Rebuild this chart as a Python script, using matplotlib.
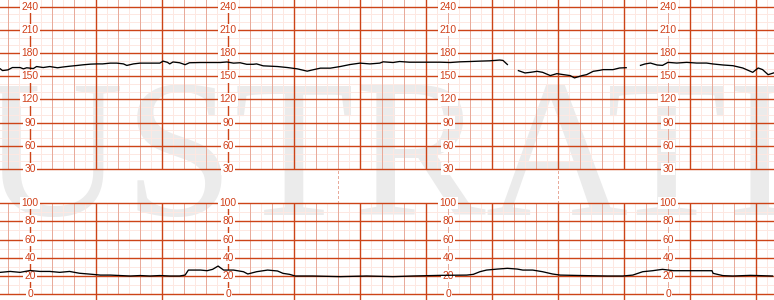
import numpy as np
import matplotlib
matplotlib.use('Agg')
import matplotlib.pyplot as plt

# fetal heart rate (bpm), time in seconds; nan = signal loss
fhr_t = [-27, -25, -20, -16, -9, -6, -3, 3, 6, 12, 18, 25, 30, 36, 43, 48, 55, 61, 66, 73,
         79, 85, 88, 94, 100, 106, 112, 118, 121, 125, 127, 130, 136, 141, 145, 155, 164, 173,
         179, 185, 191, 197, 203, 206, 212, 225, 234, 243, 252, 257, 264, 273, 282, 291, 300,
         309, 318, 321, 330, 336, 345, 355, 364, 373, 382, 391, 400, 409, 418, 427, 430, 434,
         440,
         444, 450, 455, 461, 466, 473, 479, 485, 491, 495, 502, 506, 512, 518, 521, 530, 536, 542,
         548,
         555, 559, 564, 570, 575, 580, 588, 597, 606, 615, 621, 630, 639, 648, 657, 662, 666,
         671, 676]
fhr_bpm = [159.6, 157.4, 158.3, 161.3, 161.3, 159.6, 161, 160, 162.6, 161.3, 162.6, 161, 162,
           163, 164, 164.8, 165.7, 166, 166, 167, 167, 166, 164, 166, 167, 167, 167, 167, 169.6,
           168, 166, 168.5, 167.5, 165, 167.5, 167.8, 167.8, 167.8, 168.5, 167, 167.5, 165.5,
           165.5, 166, 163.5, 162.6, 161.3, 159.6, 156.6, 158.3, 160.5, 160.5, 162.6, 165.2, 167,
           166, 167, 168.7, 167.8, 169.1, 168.2, 168.2, 168.2, 168.2, 167.8, 168.7, 169.1, 169.6,
           170, 171, 170.5, 165.2,
           np.nan,
           157.3, 154.3, 155.1, 156.4, 155.1, 150.9, 153.4, 152.1, 150.9, 147.9, 150.9, 152.1,
           156.4, 157.7, 158.6, 158.6, 160.7, 161.1,
           np.nan,
           164.1, 165.9, 167.1, 164.6, 164.1, 168, 167.1, 168, 167.1, 167.1, 165.9, 164.6, 163.7,
           160.7, 155.1, 160.7, 158.6, 152.1, 154.3]

# uterine activity
ua_t = [-27, -18, -9, 0, 9, 18, 27, 36, 45, 55, 64, 73, 82, 91, 100, 109, 118, 127, 136, 141,
        144, 155, 161, 166, 171, 176, 185, 194, 198, 206, 216, 225, 230, 236, 241, 257, 282, 306,
        330, 348, 373, 397, 403, 409, 415, 425, 434, 443, 448, 457, 466, 475, 482, 494, 506, 525,
        539, 548, 557, 566, 575, 585, 597, 609, 620, 621, 630, 639, 655, 664, 675]
ua_val = [24, 25, 24, 26, 25, 25, 24, 25, 23, 22, 21, 21, 20.5, 20, 20.5, 20, 20.5, 20, 20, 21,
          26.5, 26.5, 25.8, 27.3, 30.9, 26.5, 26.5, 24.7, 22.2, 24.7, 26.5, 25.5, 22.9, 21.8, 20,
          20, 19.3, 20, 19.3, 20, 20.7, 21, 21.8, 24.7, 26.5, 27.6, 28.4, 27.6, 26.5, 26.5, 24.7,
          22.2, 21, 20.7, 20.4, 20, 20, 21, 24.7, 25.8, 27.3, 25.8, 25.8, 25.8, 25.8, 22.9, 20.4,
          20, 20.7, 20.4, 20]

fhr_ticks = [30, 60, 90, 120, 150, 180, 210, 240]
ua_ticks = [0, 20, 40, 60, 80, 100]
label_t = [0, 180, 380, 580]
marker_t = [280, 480]

DARK = '#cc4418'
MED = '#e8ab9b'
LIGHT = '#fde8e2'
TXT = '#d0401a'

plt.rcParams['font.family'] = ['Liberation Sans', 'DejaVu Sans']

fig = plt.figure(figsize=(7.74, 3.0), dpi=100)
fig.patch.set_facecolor('white')

xlim = (-30 / 1.1, 744 / 1.1)
ax_top = fig.add_axes([0, 131 / 300, 1, 169 / 300])
ax_gap = fig.add_axes([0, 97 / 300, 1, 34 / 300])
ax_bot = fig.add_axes([0, 0, 1, 97 / 300])
for ax in (ax_top, ax_gap, ax_bot):
    ax.set_facecolor('none')
    ax.set_xlim(*xlim)
    ax.set_axis_off()

ax_top.set_ylim(30, 248.7)
ax_bot.set_ylim(-6.3, 100)
ax_gap.set_ylim(0, 1)

# watermark behind everything
fig.text(377 / 774, 85 / 300, 'ILLUSTRATION', fontsize=142, family='Liberation Serif',
         color='#ebebeb', ha='center', va='baseline', zorder=-5)

kw = dict(antialiased=False, snap=True)
THIN = 0.72
BOLD = 1.0

# vertical grid
vt = np.arange(-20, 680, 10)
for t in vt:
    if t % 60 == 0:
        c, z, lw, aa = DARK, 3, BOLD, True
    elif t % 20 == 0:
        c, z, lw, aa = MED, 2, THIN, False
    else:
        c, z, lw, aa = LIGHT, 1, THIN, False
    ax_top.axvline(t, color=c, lw=lw, zorder=z, antialiased=aa)
    lo = -6.3 if t % 60 == 0 else 0
    ax_bot.vlines(t, lo, 100, color=c, lw=lw, zorder=z, antialiased=aa)

for t in marker_t:
    ax_gap.axvline(t, color=MED, lw=THIN, ls=(0, (2.5, 2.5)), **kw)

# horizontal grid
for v in range(40, 250, 10):
    if v % 30 == 0:
        ax_top.axhline(v, color=DARK, lw=BOLD, zorder=4)
    elif v < 240:
        ax_top.axhline(v, color=LIGHT, lw=THIN, zorder=1, **kw)
ax_top.axhline(30, color=DARK, lw=BOLD, zorder=4, clip_on=False)
for v in range(0, 101, 10):
    if v % 20 == 0:
        ax_bot.axhline(v, color=DARK, lw=BOLD, zorder=4, clip_on=False)
    else:
        ax_bot.axhline(v, color=LIGHT, lw=THIN, zorder=1, **kw)

# scale labels
box = dict(boxstyle='square,pad=0.12', fc='white', ec='none')
for t in label_t:
    for v in fhr_ticks:
        ax_top.text(t, v, str(v), color=TXT, fontsize=7.4, ha='center', va='center',
                    bbox=box, zorder=5, clip_on=False)
    for v in ua_ticks:
        ax_bot.text(t, v, str(v), color=TXT, fontsize=7.4, ha='center', va='center',
                    bbox=box, zorder=5, clip_on=False)

ax_top.plot(fhr_t, fhr_bpm, color='black', lw=0.95, zorder=6)
ax_bot.plot(ua_t, ua_val, color='black', lw=0.95, zorder=6)

fig.savefig('out.png', dpi=100)
